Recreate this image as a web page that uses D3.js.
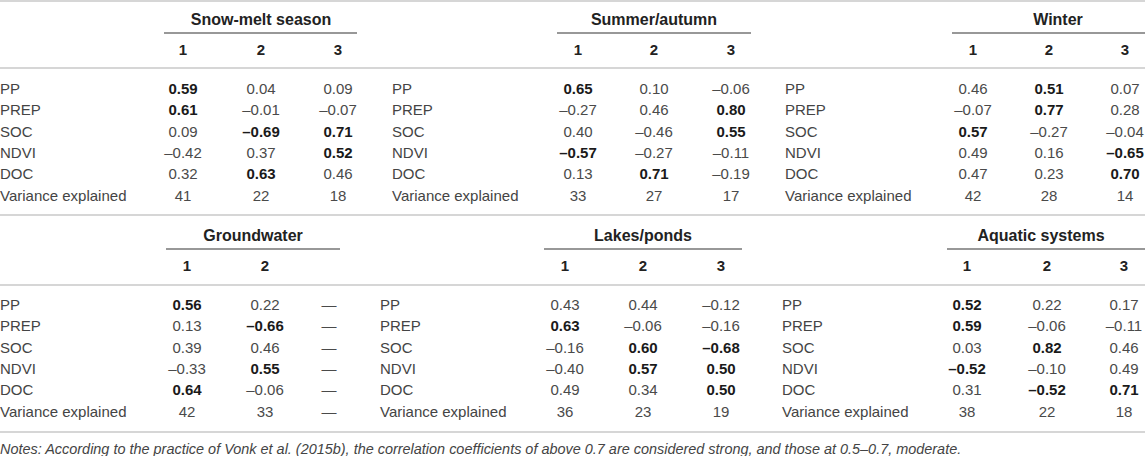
<!DOCTYPE html>
<html><head><meta charset="utf-8">
<script src="https://cdn.jsdelivr.net/npm/d3@7"></script>
<style>
html,body{margin:0;padding:0;background:#fff;}
svg text{font-family:"Liberation Sans",Arial,Helvetica,sans-serif;}
</style></head>
<body>
<svg id="chart" width="1145" height="456"></svg>
<script>
// ---- data ----
const rowLabels = ["PP","PREP","SOC","NDVI","DOC","Variance explained"];
const componentLabels = ["1","2","3"];
const groupNames = ["Snow-melt season","Summer/autumn","Winter","Groundwater","Lakes/ponds","Aquatic systems"];

const snowMelt   = [[0.59,0.04,0.09],[0.61,-0.01,-0.07],[0.09,-0.69,0.71],[-0.42,0.37,0.52],[0.32,0.63,0.46]];
const summerAutumn = [[0.65,0.10,-0.06],[-0.27,0.46,0.80],[0.40,-0.46,0.55],[-0.57,-0.27,-0.11],[0.13,0.71,-0.19]];
const winter     = [[0.46,0.51,0.07],[-0.07,0.77,0.28],[0.57,-0.27,-0.04],[0.49,0.16,-0.65],[0.47,0.23,0.70]];
const groundwater = [[0.56,0.22,null],[0.13,-0.66,null],[0.39,0.46,null],[-0.33,0.55,null],[0.64,-0.06,null]];
const lakesPonds = [[0.43,0.44,-0.12],[0.63,-0.06,-0.16],[-0.16,0.60,-0.68],[-0.40,0.57,0.50],[0.49,0.34,0.50]];
const aquatic    = [[0.52,0.22,0.17],[0.59,-0.06,-0.11],[0.03,0.82,0.46],[-0.52,-0.10,0.49],[0.31,-0.52,0.71]];

const varSnow = [41,22,18], varSummer = [33,27,17], varWinter = [42,28,14];
const varGround = [42,33,null], varLakes = [36,23,19], varAquatic = [38,22,18];

const notesText = "Notes: According to the practice of Vonk et al. (2015b), the correlation coefficients of above 0.7 are considered strong, and those at 0.5\u20130.7, moderate.";

// ---- layout ----
const groups = [
  {name:groupNames[0], vals:snowMelt, vars:varSnow, block:0, labelX:0,   cols:[183,261,338], ul:[164,357], hx:261, showHead:[1,1,1]},
  {name:groupNames[1], vals:summerAutumn, vars:varSummer, block:0, labelX:392, cols:[578,654,731], ul:[557,751], hx:654, showHead:[1,1,1]},
  {name:groupNames[2], vals:winter, vars:varWinter, block:0, labelX:785, cols:[973,1049,1125], ul:[952,1147], hx:1058, showHead:[1,1,1]},
  {name:groupNames[3], vals:groundwater, vars:varGround, block:1, labelX:0, cols:[187,265,329], ul:[166,340], hx:253, showHead:[1,1,0]},
  {name:groupNames[4], vals:lakesPonds, vars:varLakes, block:1, labelX:380, cols:[565,643,721], ul:[544,742], hx:643, showHead:[1,1,1]},
  {name:groupNames[5], vals:aquatic, vars:varAquatic, block:1, labelX:782, cols:[967,1047,1124], ul:[947,1147], hx:1041, showHead:[1,1,1]}
];
const blockOffset = [0, 216];
const blockHeaderY = [19, 235];
const yRow = d3.scaleLinear().domain([0,5]).range([88.3,195.7]);

const svg = d3.select("#chart");
const fmt = v => v===null ? "\u2014" : d3.format(".2f")(v).replace(/[\u2212-]/g,"\u2013");

// full-width rules
const rules = [1, 68, 215, 285, 432];
svg.selectAll("line.rule").data(rules).enter().append("line")
  .attr("x1",0).attr("x2",1145).attr("y1",d=>d).attr("y2",d=>d)
  .attr("stroke","#c9c9c9").attr("stroke-width",1.5);

groups.forEach(g=>{
  const off = blockOffset[g.block];
  const G = svg.append("g");
  // header
  G.append("text").attr("x",g.hx).attr("y",blockHeaderY[g.block]).attr("dy","0.35em")
    .attr("text-anchor","middle").attr("font-size",16).attr("font-weight","bold").attr("fill","#222")
    .text(g.name);
  G.append("line").attr("x1",g.ul[0]).attr("x2",g.ul[1]).attr("y1",33+off).attr("y2",33+off)
    .attr("stroke","#333").attr("stroke-width",1.2);
  // component numbers
  G.selectAll("text.comp").data(componentLabels.filter((c,i)=>g.showHead[i])).enter().append("text")
    .attr("x",(d,i)=>g.cols[i]).attr("y",50+off).attr("dy","0.35em")
    .attr("text-anchor","middle").attr("font-size",15).attr("font-weight","bold").attr("fill","#222")
    .text(d=>d);
  // row labels
  G.selectAll("text.lab").data(rowLabels).enter().append("text")
    .attr("x",g.labelX).attr("y",(d,i)=>yRow(i)+off).attr("dy","0.35em")
    .attr("font-size",15).attr("fill","#444").text(d=>d);
  // cells
  const cells = [];
  g.vals.forEach((row,ri)=>row.forEach((v,ci)=>cells.push({ri,ci,v,txt:fmt(v),bold:v!==null && Math.abs(v)>=0.5})));
  g.vars.forEach((v,ci)=>cells.push({ri:5,ci,v,txt:v===null?"\u2014":String(v),bold:false}));
  G.selectAll("text.cell").data(cells).enter().append("text")
    .attr("x",d=>g.cols[d.ci]).attr("y",d=>yRow(d.ri)+off).attr("dy","0.35em")
    .attr("text-anchor","middle").attr("font-size",15)
    .attr("font-weight",d=>d.bold?"bold":"normal")
    .attr("fill",d=>d.bold?"#1a1a1a":"#4a4a4a")
    .text(d=>d.txt);
});

svg.append("text").attr("x",0).attr("y",449).attr("dy","0.35em")
  .attr("font-size",14.45).attr("font-style","italic").attr("fill","#444").text(notesText);
</script>
</body></html>
